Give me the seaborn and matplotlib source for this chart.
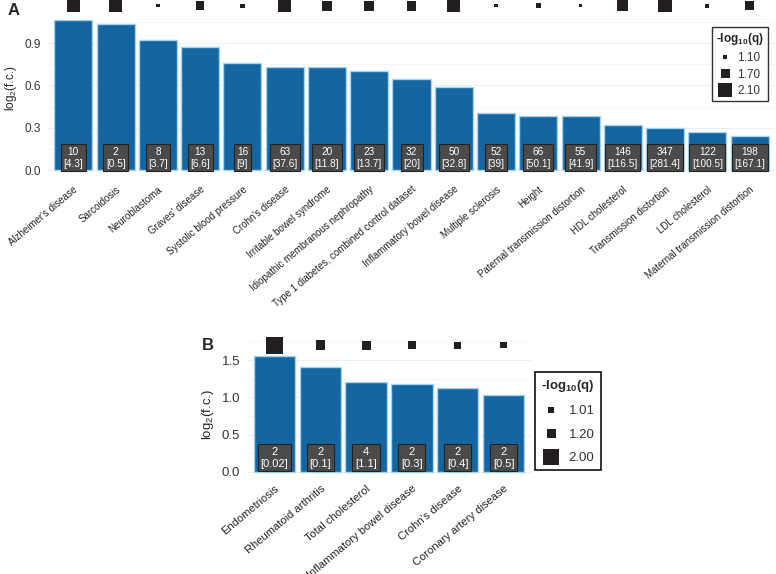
import numpy as np
import pandas as pd
import matplotlib
matplotlib.use('Agg')
import matplotlib.pyplot as plt
from matplotlib.lines import Line2D
import seaborn as sns

# Panel A data
names_a = ["Alzheimer's disease", "Sarcoidosis", "Neuroblastoma", "Graves' disease",
           "Systolic blood pressure", "Crohn's disease", "Irritable bowel syndrome",
           "Idiopathic membranous nephropathy", "Type 1 diabetes, combined control dataset",
           "Inflammatory bowel disease", "Multiple sclerosis", "Height",
           "Paternal transmission distortion", "HDL cholesterol", "Transmission distortion",
           "LDL cholesterol", "Maternal transmission distortion"]
fc_a = [1.063, 1.037, 0.924, 0.872, 0.756, 0.728, 0.727, 0.704, 0.647, 0.590,
        0.402, 0.385, 0.380, 0.317, 0.295, 0.272, 0.239]
q_a = [2.08, 2.03, 1.05, 1.65, 1.15, 2.10, 1.78, 1.78, 1.78, 2.13,
       1.05, 1.22, 1.06, 1.88, 2.10, 1.13, 1.70]
n_a = [10, 2, 8, 13, 16, 63, 20, 23, 32, 50, 52, 66, 55, 146, 347, 122, 198]
exp_a = ["4.3", "0.5", "3.7", "6.6", "9", "37.6", "11.8", "13.7", "20", "32.8",
         "39", "50.1", "41.9", "116.5", "281.4", "100.5", "167.1"]
legend_a = [1.10, 1.70, 2.10]

# Panel B data
names_b = ["Endometriosis", "Rheumatoid arthritis", "Total cholesterol",
           "Inflammatory bowel disease", "Crohn's disease", "Coronary artery disease"]
fc_b = [1.555, 1.403, 1.21, 1.175, 1.121, 1.031]
q_b = [2.00, 1.25, 1.20, 1.12, 1.08, 1.03]
n_b = [2, 2, 4, 2, 2, 2]
exp_b = ["0.02", "0.1", "1.1", "0.3", "0.4", "0.5"]
legend_b = [1.01, 1.20, 2.00]

sns.set_style("white")
plt.rcParams['font.family'] = ['Liberation Sans', 'DejaVu Sans']
plt.rcParams['mathtext.fontset'] = 'custom'
plt.rcParams['mathtext.rm'] = 'Liberation Sans'

BAR = '#1565a0'
EDGE = '#a8d3ee'
BOX = '#4b4b4b'
MARK = '#231f20'

fig = plt.figure(figsize=(7.76, 5.74), dpi=100)


def side_px(v, breaks, px):
    # marker side length in pixels, interpolated between legend keys
    return np.interp(v, breaks, px)


def draw_panel(ax, names, fc, q, n, exp, breaks, px, mark_y, box_y, fs, box_fs, ylab_fs, minors):
    df = pd.DataFrame({'name': names, 'fc': fc})
    ax.grid(True, which='major', color='#ebebeb', linewidth=0.6, zorder=0)
    sns.barplot(data=df, x='name', y='fc', color=BAR, width=0.9, saturation=1,
                edgecolor=EDGE, linewidth=1.0, ax=ax, zorder=2)
    for y in minors:
        ax.axhline(y, color='#f3f3f3', linewidth=0.5, zorder=0)
    ax.set_axisbelow(True)
    sizes = (side_px(np.array(q), breaks, px) * 0.72) ** 2
    ax.scatter(range(len(names)), [mark_y] * len(names), s=sizes, marker='s',
               color=MARK, linewidths=0, clip_on=False, zorder=4)
    for i in range(len(names)):
        ax.text(i, box_y, f"{n[i]}\n[{exp[i]}]", ha='center', va='center',
                color='white', fontsize=box_fs, linespacing=1.25, zorder=5,
                bbox=dict(boxstyle='square,pad=0.25', fc=BOX, ec='#222222', lw=0.8))
    ax.set_xlim(-0.6, len(names) - 0.4)
    ax.set_xlabel('')
    ax.set_ylabel(r'log$_{\mathregular{2}}$(f.c.)', fontsize=ylab_fs, color='#222222')
    ax.set_xticks(range(len(names)))
    ax.set_xticklabels(names, rotation=40, ha='right', rotation_mode='anchor',
                       fontsize=fs, color='#222222')
    ax.tick_params(axis='x', length=3, width=0.8, color='#444444', pad=3)
    ax.tick_params(axis='y', length=3, width=0.8, color='#444444', pad=2,
                   labelcolor='#333333')
    for s in ax.spines.values():
        s.set_visible(False)


def make_legend(breaks, px):
    handles = [Line2D([], [], marker='s', linestyle='', color=MARK,
                      markersize=p * 0.72, markeredgewidth=0) for p in px]
    labels = [f"{b:.2f}" for b in breaks]
    return handles, labels


# Panel A
ax_a = fig.add_axes([48 / 776, 1 - 176 / 574, 727 / 776, 176 / 574])
px_a = [3.7, 9.0, 13.3]
draw_panel(ax_a, names_a, fc_a, q_a, n_a, exp_a, legend_a, px_a,
           mark_y=1.165, box_y=0.088, fs=7.0, box_fs=7.2, ylab_fs=8.5,
           minors=[0.15, 0.45, 0.75, 1.05])
ax_a.set_ylim(-0.042, 1.205)
ax_a.set_yticks([0.0, 0.3, 0.6, 0.9])
ax_a.set_yticklabels(['0.0', '0.3', '0.6', '0.9'])
ax_a.tick_params(axis='y', labelsize=8.5)
h, l = make_legend(legend_a, px_a)
leg = ax_a.legend(h, l, title=r'-log$_{\mathregular{10}}$(q)', loc='upper right',
                  bbox_to_anchor=(0.990, 0.847), borderaxespad=0, fancybox=False,
                  edgecolor='#333333', framealpha=1, fontsize=8.5, title_fontsize=8.5,
                  labelspacing=0.4, handletextpad=0.5, handlelength=1.0, borderpad=0.35)
leg.get_title().set_fontweight('bold')
leg.get_frame().set_linewidth(1.0)
for t in leg.get_texts():
    t.set_color('#333333')

# Panel B
ax_b = fig.add_axes([247 / 776, 1 - 475 / 574, 284 / 776, 140 / 574])
px_b = [6.0, 9.0, 16.7]
draw_panel(ax_b, names_b, fc_b, q_b, n_b, exp_b, legend_b, px_b,
           mark_y=1.70, box_y=0.19, fs=8.0, box_fs=8.0, ylab_fs=9.5,
           minors=[0.25, 0.75, 1.25, 1.75])
ax_b.set_ylim(-0.044, 1.837)
ax_b.set_yticks([0.0, 0.5, 1.0, 1.5])
ax_b.set_yticklabels(['0.0', '0.5', '1.0', '1.5'])
ax_b.tick_params(axis='y', labelsize=9.5)
ax_b.yaxis.set_label_coords(-0.11, 0.43)
h, l = make_legend(legend_b, px_b)
leg_b = fig.legend(h, l, title=r'-log$_{\mathregular{10}}$(q)', loc='upper left',
                   bbox_to_anchor=(535 / 776, 1 - 372 / 574), borderaxespad=0,
                   fancybox=False, edgecolor='#111111', framealpha=1, fontsize=9.5,
                   title_fontsize=9.5, labelspacing=0.85, handletextpad=0.6,
                   handlelength=1.5, borderpad=0.45)
leg_b.get_title().set_fontweight('bold')
leg_b.get_frame().set_linewidth(1.2)
for t in leg_b.get_texts():
    t.set_color('#333333')

fig.text(8 / 776, 1 - 3 / 574, 'A', fontsize=12, fontweight='bold', va='top', ha='left')
fig.text(202 / 776, 1 - 338 / 574, 'B', fontsize=12, fontweight='bold', va='top', ha='left')

fig.savefig('out.png', dpi=100)
